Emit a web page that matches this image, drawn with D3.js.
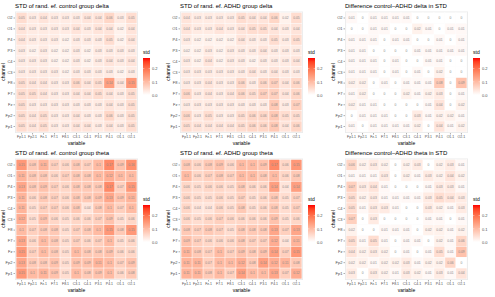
<!DOCTYPE html>
<html>
<head>
<meta charset="utf-8">
<script src="https://cdn.jsdelivr.net/npm/d3@7"></script>
<style>
  body { margin: 0; background: #fff; }
  svg { display: block; font-family: "Liberation Sans", Arial, sans-serif; }
</style>
</head>
<body>
<svg id="chart" width="495" height="297"></svg>
<script>
const W = 495, H = 297;

const channels = ['O2', 'O1', 'P4', 'P3', 'C4', 'C3', 'F8', 'F7', 'Fz', 'Fp2', 'Fp1'];
const variables = ['Fp1.1', 'Fp2.1', 'Fz.1', 'F7.1', 'F8.1', 'C3.1', 'C4.1', 'P3.1', 'P4.1', 'O1.1', 'O2.1'];

const titles = [
  'STD of rand. ef. control group delta',
  'STD of rand. ef. ADHD group delta',
  'Difference control\u2013ADHD delta in STD',
  'STD of rand. ef. control group theta',
  'STD of rand. ef. ADHD group theta',
  'Difference control\u2013ADHD theta in STD'
];

// rows follow channels (top to bottom), columns follow variables
const controlDelta = [
  [0.05, 0.03, 0.04, 0.03, 0.03, 0.03, 0.04, 0.04, 0.06, 0.03, 0.05],
  [0.04, 0.03, 0.03, 0.03, 0.03, 0.04, 0.03, 0.04, 0.04, 0.02, 0.04],
  [0.04, 0.03, 0.03, 0.03, 0.02, 0.03, 0.03, 0.03, 0.05, 0.02, 0.04],
  [0.03, 0.02, 0.03, 0.02, 0.02, 0.03, 0.02, 0.03, 0.03, 0.03, 0.03],
  [0.03, 0.03, 0.03, 0.02, 0.02, 0.03, 0.02, 0.03, 0.04, 0.03, 0.04],
  [0.03, 0.03, 0.03, 0.03, 0.02, 0.03, 0.03, 0.03, 0.03, 0.02, 0.03],
  [0.05, 0.04, 0.04, 0.03, 0.03, 0.06, 0.04, 0.05, 0.14, 0.04, 0.15],
  [0.05, 0.05, 0.04, 0.03, 0.03, 0.04, 0.04, 0.05, 0.04, 0.03, 0.05],
  [0.05, 0.03, 0.03, 0.03, 0.03, 0.03, 0.03, 0.03, 0.04, 0.03, 0.05],
  [0.05, 0.04, 0.05, 0.03, 0.03, 0.04, 0.03, 0.03, 0.06, 0.03, 0.05],
  [0.05, 0.04, 0.05, 0.03, 0.03, 0.04, 0.04, 0.03, 0.04, 0.03, 0.05]
];

const adhdDelta = [
  [0.04, 0.03, 0.03, 0.03, 0.03, 0.05, 0.04, 0.04, 0.06, 0.02, 0.05],
  [0.04, 0.03, 0.03, 0.04, 0.03, 0.04, 0.05, 0.05, 0.04, 0.03, 0.04],
  [0.03, 0.02, 0.02, 0.02, 0.02, 0.04, 0.03, 0.03, 0.05, 0.03, 0.05],
  [0.02, 0.02, 0.03, 0.02, 0.03, 0.03, 0.03, 0.04, 0.03, 0.03, 0.03],
  [0.03, 0.02, 0.04, 0.02, 0.03, 0.03, 0.02, 0.03, 0.03, 0.03, 0.04],
  [0.03, 0.03, 0.03, 0.03, 0.03, 0.03, 0.04, 0.03, 0.04, 0.03, 0.03],
  [0.03, 0.03, 0.04, 0.03, 0.03, 0.06, 0.03, 0.06, 0.07, 0.04, 0.06],
  [0.06, 0.03, 0.04, 0.03, 0.04, 0.06, 0.05, 0.07, 0.07, 0.04, 0.06],
  [0.03, 0.03, 0.03, 0.03, 0.03, 0.03, 0.03, 0.03, 0.08, 0.03, 0.07],
  [0.06, 0.03, 0.05, 0.03, 0.03, 0.05, 0.06, 0.06, 0.08, 0.05, 0.05],
  [0.05, 0.04, 0.04, 0.04, 0.04, 0.05, 0.06, 0.06, 0.08, 0.04, 0.06]
];

const diffDelta = [
  [0.01, 0, 0.01, 0.01, 0.01, 0.01, 0, 0, 0, 0, 0],
  [0, 0, 0.01, 0.01, 0, 0, 0.02, 0.01, 0, 0.01, 0.01],
  [0.01, 0.01, 0.01, 0, 0.01, 0.01, 0, 0, 0.01, 0, 0.01],
  [0.01, 0.01, 0, 0, 0, 0, 0.01, 0.01, 0.01, 0.01, 0.01],
  [0.01, 0.01, 0.01, 0, 0.01, 0, 0, 0.01, 0.01, 0, 0],
  [0.01, 0.01, 0.01, 0, 0.01, 0, 0.01, 0, 0.02, 0, 0],
  [0.02, 0.02, 0, 0.01, 0, 0.01, 0.01, 0.01, 0.08, 0, 0.09],
  [0.01, 0.02, 0, 0, 0, 0.02, 0.01, 0.02, 0.03, 0, 0.01],
  [0.02, 0.01, 0.01, 0, 0, 0, 0, 0.01, 0.04, 0, 0.02],
  [0, 0.01, 0.01, 0.01, 0, 0, 0.03, 0.01, 0.02, 0.02, 0.01],
  [0.01, 0, 0.01, 0.01, 0.01, 0.01, 0.02, 0, 0.04, 0.01, 0.02]
];

const controlTheta = [
  [0.15, 0.08, 0.11, 0.07, 0.06, 0.08, 0.07, 0.1, 0.17, 0.09, 0.16],
  [0.11, 0.08, 0.08, 0.06, 0.07, 0.08, 0.08, 0.1, 0.12, 0.1, 0.1],
  [0.13, 0.08, 0.09, 0.07, 0.06, 0.08, 0.08, 0.08, 0.17, 0.07, 0.15],
  [0.11, 0.06, 0.08, 0.07, 0.06, 0.08, 0.08, 0.09, 0.13, 0.09, 0.11],
  [0.11, 0.05, 0.07, 0.07, 0.06, 0.08, 0.04, 0.08, 0.1, 0.07, 0.1],
  [0.12, 0.05, 0.09, 0.06, 0.05, 0.06, 0.06, 0.07, 0.09, 0.05, 0.06],
  [0.1, 0.07, 0.08, 0.08, 0.05, 0.07, 0.08, 0.1, 0.15, 0.08, 0.15],
  [0.13, 0.06, 0.1, 0.08, 0.05, 0.07, 0.06, 0.07, 0.1, 0.05, 0.06],
  [0.15, 0.07, 0.1, 0.08, 0.05, 0.1, 0.08, 0.08, 0.09, 0.06, 0.06],
  [0.13, 0.08, 0.08, 0.09, 0.05, 0.09, 0.09, 0.11, 0.1, 0.07, 0.09],
  [0.15, 0.1, 0.11, 0.09, 0.05, 0.1, 0.08, 0.09, 0.1, 0.06, 0.08]
];

const adhdTheta = [
  [0.08, 0.06, 0.08, 0.09, 0.06, 0.1, 0.1, 0.09, 0.17, 0.06, 0.15],
  [0.1, 0.06, 0.07, 0.08, 0.07, 0.1, 0.1, 0.08, 0.1, 0.06, 0.08],
  [0.06, 0.05, 0.06, 0.06, 0.05, 0.08, 0.06, 0.06, 0.14, 0.04, 0.14],
  [0.06, 0.05, 0.05, 0.06, 0.05, 0.07, 0.05, 0.06, 0.08, 0.05, 0.07],
  [0.06, 0.04, 0.04, 0.06, 0.05, 0.08, 0.05, 0.06, 0.08, 0.05, 0.07],
  [0.06, 0.05, 0.06, 0.07, 0.06, 0.06, 0.06, 0.06, 0.09, 0.05, 0.06],
  [0.08, 0.07, 0.08, 0.07, 0.05, 0.08, 0.08, 0.08, 0.13, 0.07, 0.13],
  [0.09, 0.07, 0.06, 0.06, 0.06, 0.08, 0.07, 0.07, 0.12, 0.04, 0.11],
  [0.11, 0.08, 0.07, 0.1, 0.07, 0.09, 0.08, 0.09, 0.14, 0.07, 0.15],
  [0.11, 0.11, 0.07, 0.1, 0.1, 0.12, 0.08, 0.14, 0.12, 0.11, 0.08],
  [0.11, 0.11, 0.08, 0.1, 0.07, 0.14, 0.1, 0.1, 0.13, 0.07, 0.12]
];

const diffTheta = [
  [0.06, 0.02, 0.03, 0.02, 0, 0.02, 0.03, 0, 0.02, 0.03, 0.01],
  [0.01, 0.01, 0.01, 0.03, 0, 0.02, 0.01, 0.03, 0.02, 0.04, 0.02],
  [0.07, 0.03, 0.04, 0.01, 0, 0, 0, 0.01, 0.03, 0.03, 0.01],
  [0.05, 0.02, 0.03, 0.01, 0.01, 0.01, 0.01, 0.03, 0.05, 0.04, 0.03],
  [0.05, 0.01, 0.03, 0.03, 0.01, 0, 0, 0.03, 0.02, 0.01, 0.03],
  [0.07, 0, 0.03, 0, 0, 0, 0, 0.01, 0.01, 0, 0.01],
  [0.02, 0, 0, 0.01, 0.01, 0.01, 0, 0.02, 0.02, 0.01, 0.02],
  [0.05, 0.01, 0.05, 0.01, 0, 0.01, 0.01, 0, 0.02, 0.01, 0.06],
  [0.04, 0.02, 0.03, 0.02, 0, 0.01, 0, 0.01, 0.05, 0.01, 0.09],
  [0.02, 0.02, 0.01, 0.02, 0.02, 0.03, 0.01, 0.02, 0.02, 0.06, 0],
  [0.03, 0, 0.03, 0.02, 0.01, 0.03, 0.02, 0.01, 0.03, 0.01, 0.04]
];

const legendTicks = [0, 0.1, 0.2];
const stdMax = 0.28;

const panels = [controlDelta, adhdDelta, diffDelta, controlTheta, adhdTheta, diffTheta];

const svg = d3.select('#chart');
svg.append('rect').attr('width', W).attr('height', H).attr('fill', '#fff');

const color = d3.scaleLinear().domain([0, stdMax]).range(['#ffffff', '#ff0000'])
  .interpolate(d3.interpolateLab).clamp(true);

const panelW = 165, panelH = 147;

// same layout inside every panel
const x = d3.scaleBand().domain(variables).range([15, 138]).paddingInner(0).paddingOuter(0.1);
const y = d3.scaleBand().domain(channels).range([11.5, 133]).paddingInner(0).paddingOuter(0.1);

const fmt = v => v === 0 ? '0' : String(+v.toFixed(2));

panels.forEach((vals, i) => {
  const g = svg.append('g')
    .attr('transform', `translate(${(i % 3) * panelW}, ${Math.floor(i / 3) * panelH})`);

  g.append('text')
    .attr('x', 15).attr('y', 8)
    .attr('font-size', 6).attr('fill', '#000')
    .text(titles[i]);

  g.append('rect')
    .attr('x', 15).attr('y', 11.5)
    .attr('width', 123).attr('height', 121.5)
    .attr('fill', '#ebebeb');

  const cells = [];
  vals.forEach((row, r) => row.forEach((v, c) => cells.push({ ch: channels[r], va: variables[c], v })));

  g.selectAll('rect.cell')
    .data(cells)
    .join('rect')
    .attr('class', 'cell')
    .attr('x', d => x(d.va))
    .attr('y', d => y(d.ch))
    .attr('width', x.bandwidth())
    .attr('height', y.bandwidth())
    .attr('fill', d => color(d.v))
    .attr('stroke', '#fff')
    .attr('stroke-width', 0.4);

  g.selectAll('text.val')
    .data(cells)
    .join('text')
    .attr('class', 'val')
    .attr('x', d => x(d.va) + x.bandwidth() / 2)
    .attr('y', d => y(d.ch) + y.bandwidth() / 2)
    .attr('text-anchor', 'middle')
    .attr('dominant-baseline', 'central')
    .attr('font-size', 3.3)
    .attr('fill', '#8a8a8a')
    .text(d => fmt(d.v));

  const yAxis = g.append('g')
    .attr('transform', 'translate(15, 0)')
    .call(d3.axisLeft(y).tickSize(1.5).tickPadding(1));
  yAxis.select('.domain').remove();
  yAxis.selectAll('line').attr('stroke', '#333').attr('stroke-width', 0.4);
  yAxis.selectAll('text').attr('font-size', 4).attr('fill', '#4d4d4d').attr('font-family', null);

  const xAxis = g.append('g')
    .attr('transform', 'translate(0, 133)')
    .call(d3.axisBottom(x).tickSize(1.5).tickPadding(1));
  xAxis.select('.domain').remove();
  xAxis.selectAll('line').attr('stroke', '#333').attr('stroke-width', 0.4);
  xAxis.selectAll('text').attr('font-size', 3.5).attr('fill', '#4d4d4d').attr('font-family', null);

  g.append('text')
    .attr('x', 76.5).attr('y', 145)
    .attr('text-anchor', 'middle')
    .attr('font-size', 5).attr('fill', '#000')
    .text('variable');

  g.append('text')
    .attr('transform', 'translate(5, 72) rotate(-90)')
    .attr('text-anchor', 'middle')
    .attr('font-size', 5).attr('fill', '#000')
    .text('channel');

  // legend
  const lg = g.append('g').attr('transform', 'translate(143, 0)');
  lg.append('text')
    .attr('x', 0).attr('y', 54)
    .attr('font-size', 5).attr('fill', '#000')
    .text('std');

  const gradId = `grad${i}`;
  const grad = g.append('defs').append('linearGradient')
    .attr('id', gradId).attr('x1', 0).attr('y1', 1).attr('x2', 0).attr('y2', 0);
  d3.range(0, 1.0001, 0.1).forEach(t => {
    grad.append('stop').attr('offset', t).attr('stop-color', color(t * stdMax));
  });

  const ly = d3.scaleLinear().domain([0, stdMax]).range([95, 58]);
  lg.append('rect')
    .attr('x', 0).attr('y', 58)
    .attr('width', 7).attr('height', 37)
    .attr('fill', `url(#${gradId})`);

  const la = lg.append('g')
    .attr('transform', 'translate(7, 0)')
    .call(d3.axisRight(ly).tickValues(legendTicks).tickFormat(d3.format('.1f')).tickSize(0).tickPadding(2));
  la.select('.domain').remove();
  la.selectAll('text').attr('font-size', 4).attr('fill', '#4d4d4d').attr('font-family', null);
  lg.selectAll('.tickmarks')
    .data(legendTicks)
    .join('g')
    .each(function (d) {
      d3.select(this).append('line')
        .attr('x1', 0).attr('x2', 1.4).attr('y1', ly(d)).attr('y2', ly(d))
        .attr('stroke', '#fff').attr('stroke-width', 0.4);
      d3.select(this).append('line')
        .attr('x1', 5.6).attr('x2', 7).attr('y1', ly(d)).attr('y2', ly(d))
        .attr('stroke', '#fff').attr('stroke-width', 0.4);
    });
});
</script>
</body>
</html>
